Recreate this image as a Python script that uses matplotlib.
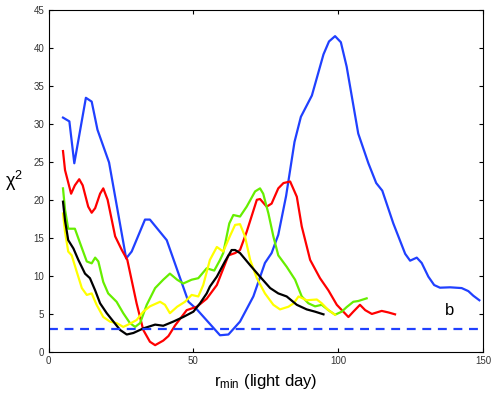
import matplotlib
matplotlib.use("Agg")
import matplotlib.pyplot as plt

plt.rcParams['font.family'] = ['Liberation Sans', 'DejaVu Sans']
plt.rcParams['mathtext.default'] = 'regular'

# blue curve
x_blue = [5, 7.2, 8.9, 12.9, 14.9, 16.9, 20.9, 26.8, 28.7, 33.3, 35, 40.8, 48.3, 51.2,
          59.2, 62.1, 66.1, 70.7, 74.7, 77, 79.3, 82, 84.9, 87.1, 90.9, 94.9, 96.8,
          98.9, 100.9, 102.9, 106.9, 110.4, 113.1, 115.2, 119, 123.1, 124.8, 127.1,
          128.8, 131.1, 133.1, 135.1, 138.6, 142.6, 144.9, 146.6, 148.7]
y_blue = [30.8, 30.3, 24.8, 33.4, 32.9, 29.2, 24.9, 12.3, 13.2, 17.4, 17.4, 14.7, 6.6, 5.6,
          2.2, 2.3, 4.0, 7.3, 11.7, 13.0, 15.4, 20.5, 27.6, 30.9, 33.7, 39.1, 40.8,
          41.5, 40.7, 37.5, 28.7, 24.8, 22.2, 21.2, 16.9, 12.9, 12.0, 12.4,
          11.7, 9.9, 8.8, 8.45, 8.5, 8.4, 8.0, 7.4, 6.8]

# red curve
x_red = [5, 5.7, 7.8, 9.1, 10.6, 11.8, 13.7, 14.9, 16.1, 17.8, 18.9, 20.4, 23, 25.3, 27.2,
         30.4, 32.7, 35, 36.8, 39.6, 41.4, 43.7, 47.7, 51.2, 54.6, 58.1, 62.1, 64.4, 66.1,
         68.4, 71.9, 73, 75.3, 77, 79.3, 81.1, 83.4, 85.7, 87.4, 90.3, 93.7, 96.6, 99.5,
         103.5, 105.2, 107.5, 109.3, 111.6, 115, 117.3, 119.6]
y_red = [26.4, 23.9, 20.8, 21.9, 22.7, 21.9, 19.1, 18.3, 18.9, 20.8, 21.5, 20.0, 15.2, 13.4, 12.1,
         6.4, 2.9, 1.35, 0.9, 1.5, 2.1, 3.5, 5.5, 5.95, 7.0, 8.8, 12.7, 13.0, 13.4,
         15.8, 20.0, 20.1, 19.1, 19.5, 21.5, 22.2, 22.4, 20.4, 16.5, 12.1, 9.7, 8.1, 6.2,
         4.6, 5.3, 6.2, 5.5, 5.0, 5.4, 5.2, 4.95]

# green curve
x_green = [5, 5.7, 6.8, 9.1, 10.9, 13.2, 14.9, 16.1, 17.2, 18.9, 20.6, 23.5, 25.8, 28.1, 29.9,
           31.6, 33.9, 36.8, 39.6, 41.9, 44.4, 46.5, 49.4, 51.7, 54.6, 57.2, 59.2, 60.3, 62.4,
           63.8, 66.1, 68.4, 71.3, 73, 74.1, 75.9, 77.6, 79.3, 82.2, 85.1, 87.4, 89.7, 92,
           94.3, 96.6, 98.9, 101.2, 102.9, 105.2, 106.9, 109.8]
y_green = [21.5, 18.7, 16.2, 16.2, 14.3, 11.9, 11.65, 12.4, 11.9, 9.2, 7.7, 6.6, 5.1, 3.8, 3.3,
           3.8, 6.2, 8.4, 9.5, 10.3, 9.5, 9.0, 9.5, 9.7, 11.0, 10.7, 12.1, 13.0, 16.9,
           18.0, 17.8, 19.1, 21.1, 21.5, 20.8, 18.2, 15.2, 12.7, 11.2, 9.5, 7.3, 6.4, 6.0,
           6.2, 5.5, 4.9, 5.3, 5.9, 6.6, 6.7, 7.05]

# black curve
x_black = [5, 5.7, 6.8, 8.6, 10.3, 12.6, 14.3, 16.1, 17.8, 20.1, 22.4, 24.7, 27, 29.3, 32.7,
           36.8, 39.6, 43.1, 46.5, 50, 52.3, 54.6, 55.7, 58.1, 60.9, 63.2, 64.4, 66.1, 69.6,
           73, 76.5, 79.3, 82.2, 85.7, 89.1, 92, 94.9]
y_black = [19.75, 17.3, 14.7, 13.6, 12.1, 10.3, 9.7, 8.1, 6.4, 5.1, 4.0, 2.9, 2.3, 2.5, 3.1,
           3.6, 3.45, 4.0, 4.6, 5.3, 6.4, 7.7, 8.6, 9.9, 11.9, 13.4, 13.4, 13.0, 11.4,
           9.9, 8.4, 7.7, 7.3, 6.2, 5.6, 5.3, 4.95]

# yellow curve
x_yellow = [5, 5.7, 6.8, 8, 9.7, 11.5, 13.2, 14.9, 16.6, 18.9, 21.2, 23.5, 25.8, 27.5, 30.4,
            32.7, 35, 38.5, 40.2, 41.9, 44.4, 47.1, 49.4, 51.7, 53.4, 55.7, 58.1, 60.3, 62.7,
            64.4, 66.1, 67.8, 69.6, 71.9, 74.7, 77.6, 79.9, 82.8, 84.6, 86.3, 89.1, 92.6,
            94.3, 96.6, 98.9]
y_yellow = [18.2, 15.8, 13.2, 12.7, 10.6, 8.4, 7.5, 7.7, 6.2, 4.6, 4.0, 3.8, 3.3, 3.6, 4.2,
            5.3, 6.0, 6.6, 6.2, 5.1, 5.95, 6.6, 7.5, 7.3, 8.8, 12.1, 13.8, 13.2, 15.3,
            16.7, 16.8, 15.2, 12.1, 9.7, 7.7, 6.2, 5.6, 5.95, 6.4, 7.3, 6.8, 6.9,
            6.4, 5.5, 4.9]

threshold = 3.0
x_ticks = [0, 50, 100, 150]
y_ticks = [0, 5, 10, 15, 20, 25, 30, 35, 40, 45]

fig = plt.figure(figsize=(4.95, 3.93), dpi=100)
ax = fig.add_axes([0.098, 0.1043, 0.878, 0.8715])

lw = 1.6
ax.plot(x_blue, y_blue, color='#2040ff', lw=lw)
ax.plot(x_red, y_red, color='#ff0000', lw=lw)
ax.plot(x_green, y_green, color='#66ee00', lw=lw)
ax.plot(x_yellow, y_yellow, color='#ffff00', lw=lw)
ax.plot(x_black, y_black, color='black', lw=lw)
ax.axhline(threshold, color='#2040ff', lw=lw, ls=(0, (4, 3)))

ax.text(138.3, 5.5, 'b', fontsize=12, ha='center', va='center')

ax.set_xlim(0, 150)
ax.set_ylim(0, 45)
ax.set_xticks(x_ticks)
ax.set_yticks(y_ticks)
ax.tick_params(direction='in', length=3, labelsize=7, labelcolor='#333333',
               top=True, right=True, pad=3)
for s in ax.spines.values():
    s.set_linewidth(0.8)

ax.set_xlabel('r$_{min}$ (light day)', fontsize=12, labelpad=4)
ax.set_ylabel('χ$^2$', fontsize=13, rotation=0, labelpad=14, va='center')

fig.savefig('out.png', dpi=100)
